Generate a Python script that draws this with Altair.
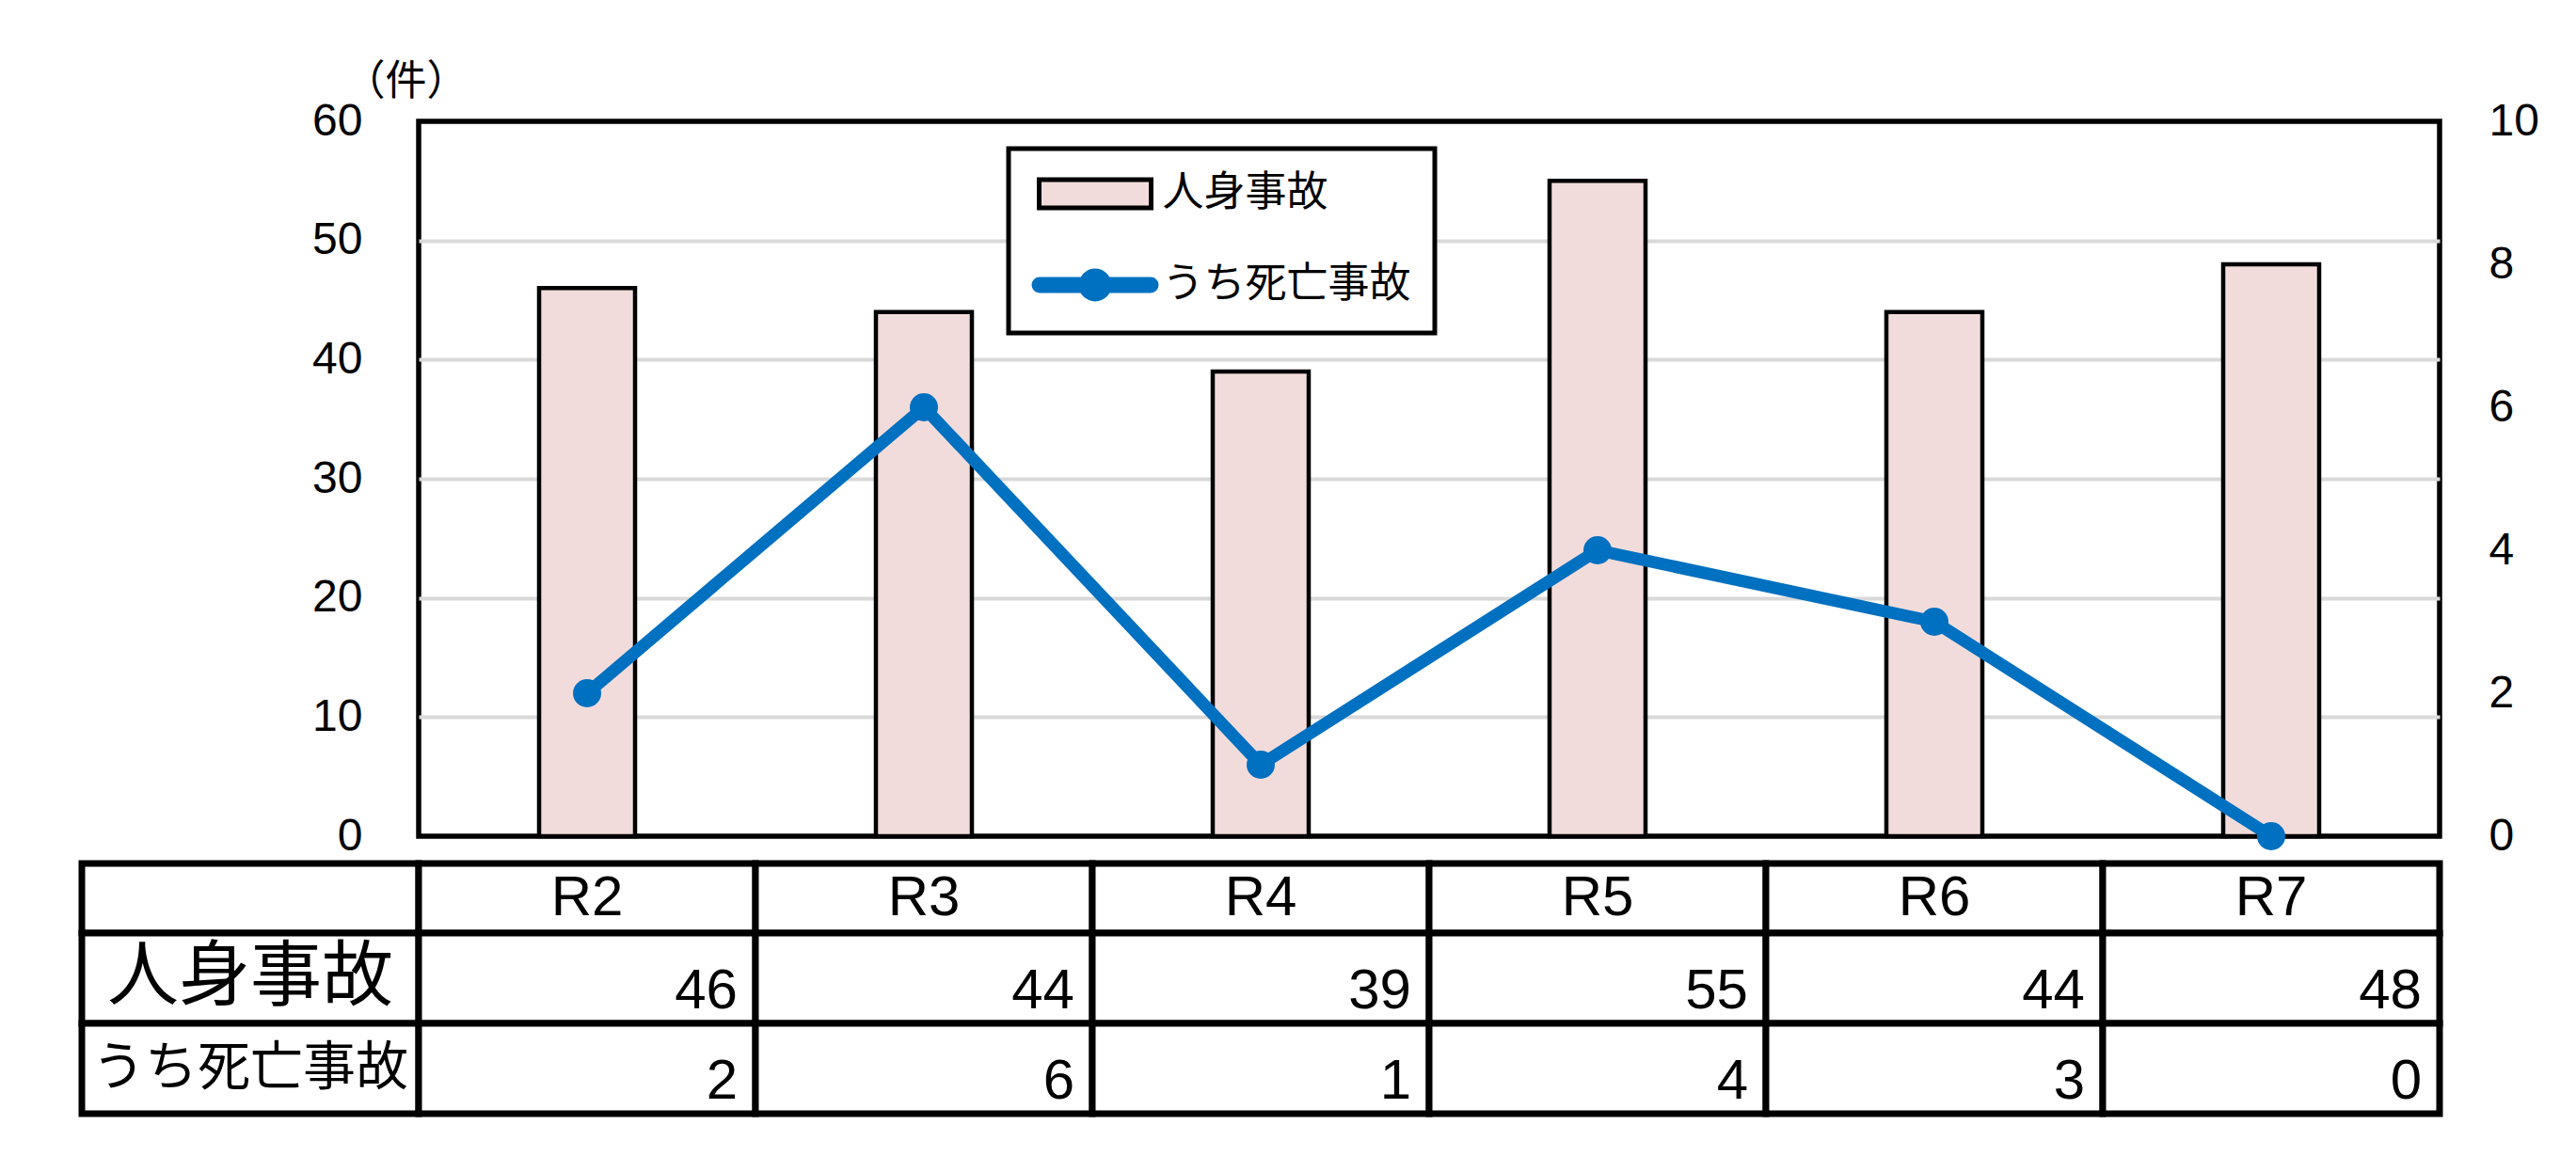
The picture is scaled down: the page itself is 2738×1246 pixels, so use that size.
import altair as alt
import pandas as pd

# ---------------- data ----------------
YEARS = ["R2", "R3", "R4", "R5", "R6", "R7"]
INJURY = [46, 44, 39, 55, 44, 48]      # 人身事故
FATAL = [2, 6, 1, 4, 3, 0]             # うち死亡事故
SERIES = ["人身事故", "うち死亡事故"]
LEFT_TICKS = [0, 10, 20, 30, 40, 50, 60]
RIGHT_TICKS = [0, 2, 4, 6, 8, 10]
UNIT = "（件）"

# ---------------- style / layout ----------------
PINK = "#F2DCDB"
BLUE = "#0070C0"
GRID = "#D9D9D9"
JP = "Noto Sans CJK JP"
LAT = "Liberation Sans"
PLOT_W, PLOT_H = 2148, 760
ROW_EDGES = [0, 74, 170, 266]
TABLE_H = ROW_EDGES[-1]
ROW_LABEL_SIZES = [76, 56]

BAR_PATH = "M-2.975,-0.75H2.975V0.75H-2.975Z"
LINE_PATH = ("M-2.95,-0.3H2.95A0.3,0.3 0 0,1 2.95,0.3H-2.95A0.3,0.3 0 0,1 -2.95,-0.3Z"
             "M-0.75,0A0.75,0.75 0 1,1 0.75,0A0.75,0.75 0 1,1 -0.75,0Z")

legend = alt.Legend(
    title=None, orient="none", legendX=627, legendY=29, direction="vertical",
    padding=25.5, symbolSize=1600, symbolStrokeWidth=5, symbolOffset=44,
    labelOffset=49, rowPadding=46, labelFont=JP, labelFontSize=44,
    labelColor="black", labelLimit=600, strokeColor="black", fillColor="white",
    symbolOpacity=1,
)

bar_df = pd.DataFrame({"year": YEARS, "count": INJURY})
line_df = pd.DataFrame({"year": YEARS, "count": FATAL})
series_df = pd.DataFrame({"series": SERIES})

x_enc = alt.X("year:N", sort=YEARS, axis=None,
              scale=alt.Scale(paddingInner=0, paddingOuter=0))

EDGE_TEST = f"datum.value === {LEFT_TICKS[0]} || datum.value === {LEFT_TICKS[-1]}"

bars = alt.Chart(bar_df).mark_bar(size=102, fill=PINK, stroke="black", strokeWidth=4.5).encode(
    x=x_enc,
    y=alt.Y("count:Q", scale=alt.Scale(domain=[0, 60], nice=False),
            axis=alt.Axis(values=LEFT_TICKS, grid=True, gridColor=GRID, gridWidth=4,
                          gridOpacity={"condition": {"test": EDGE_TEST, "value": 0}, "value": 1},
                          domain=False, ticks=False, labelFont=LAT, labelFontSize=48,
                          labelColor="black", labelPadding=60,
                          title=UNIT, titleAngle=0, titleX=-14, titleY=-42,
                          titleAlign="center", titleBaseline="middle", titleFont=JP,
                          titleFontSize=44, titleFontWeight="normal", titleColor="black")),
)

line = alt.Chart(line_df).mark_line(
    color=BLUE, strokeWidth=13, strokeJoin="round",
    point=alt.OverlayMarkDef(filled=True, size=900, color=BLUE),
).encode(
    x=x_enc,
    y=alt.Y("count:Q", scale=alt.Scale(domain=[0, 10], nice=False),
            axis=alt.Axis(orient="right", values=RIGHT_TICKS, grid=False, domain=False,
                          ticks=False, labelFont=LAT, labelFontSize=48, labelColor="black",
                          labelPadding=52, title=None)),
)

# legend carrier (invisible marks, legend built from the series scales)
legend_layer = alt.Chart(series_df).mark_point(filled=True, opacity=0).encode(
    color=alt.Color("series:N", scale=alt.Scale(domain=SERIES, range=[PINK, BLUE]), legend=legend),
    shape=alt.Shape("series:N", scale=alt.Scale(domain=SERIES, range=[BAR_PATH, LINE_PATH]), legend=legend),
    stroke=alt.Stroke("series:N", scale=alt.Scale(domain=SERIES, range=["black", BLUE]), legend=legend),
)

top = alt.layer(bars, line, legend_layer).resolve_scale(y="independent").properties(
    width=PLOT_W, height=PLOT_H)

# ---------------- data table ----------------
n = len(YEARS)
cells = pd.DataFrame([
    {"c0": c, "c1": c + 1, "r0": ROW_EDGES[r], "r1": ROW_EDGES[r + 1]}
    for r in range(len(ROW_EDGES) - 1) for c in range(-1, n)
])
header_df = pd.DataFrame({"year": YEARS, "cx": [i + 0.5 for i in range(n)],
                          "cy": (ROW_EDGES[0] + ROW_EDGES[1]) / 2})
values_df = pd.DataFrame(
    [{"txt": str(v), "rx": i + 1, "by": ROW_EDGES[2]} for i, v in enumerate(INJURY)] +
    [{"txt": str(v), "rx": i + 1, "by": ROW_EDGES[3]} for i, v in enumerate(FATAL)]
)

xs = alt.Scale(domain=[0, n], nice=False, zero=False)
ys = alt.Scale(domain=[0, TABLE_H], nice=False, zero=False, reverse=True)

grid_layer = alt.Chart(cells).mark_rect(fill="white", stroke="black", strokeWidth=7).encode(
    x=alt.X("c0:Q", scale=xs, axis=None), x2="c1",
    y=alt.Y("r0:Q", scale=ys, axis=None), y2="r1",
)
header = alt.Chart(header_df).mark_text(
    font=LAT, fontSize=60, align="center", baseline="middle", color="black"
).encode(
    x=alt.X("cx:Q", scale=xs, axis=None), y=alt.Y("cy:Q", scale=ys, axis=None),
    text="year:N",
)
label_layers = []
for r, (name, fs) in enumerate(zip(SERIES, ROW_LABEL_SIZES)):
    ldf = pd.DataFrame({"txt": [name], "cx": [-0.5],
                        "cy": [(ROW_EDGES[r + 1] + ROW_EDGES[r + 2]) / 2]})
    label_layers.append(
        alt.Chart(ldf).mark_text(font=JP, fontSize=fs, align="center",
                                 baseline="middle", color="black").encode(
            x=alt.X("cx:Q", scale=xs, axis=None), y=alt.Y("cy:Q", scale=ys, axis=None),
            text="txt:N")
    )
vals = alt.Chart(values_df).mark_text(
    font=LAT, fontSize=60, align="right", baseline="alphabetic", dx=-19, dy=-16,
    color="black"
).encode(
    x=alt.X("rx:Q", scale=xs, axis=None), y=alt.Y("by:Q", scale=ys, axis=None),
    text="txt:N",
)

table = alt.layer(grid_layer, header, *label_layers, vals).properties(
    width=PLOT_W, height=TABLE_H)

chart = alt.vconcat(top, table, spacing=29, bounds="flush").properties(
    padding={"left": 72, "top": 54, "right": 20, "bottom": 20}
).configure(background="white").configure_view(
    stroke="black", strokeWidth=5.5
).configure_legend(strokeWidth=5)

chart.save("out.html", embed_options={"renderer": "svg", "actions": False})
